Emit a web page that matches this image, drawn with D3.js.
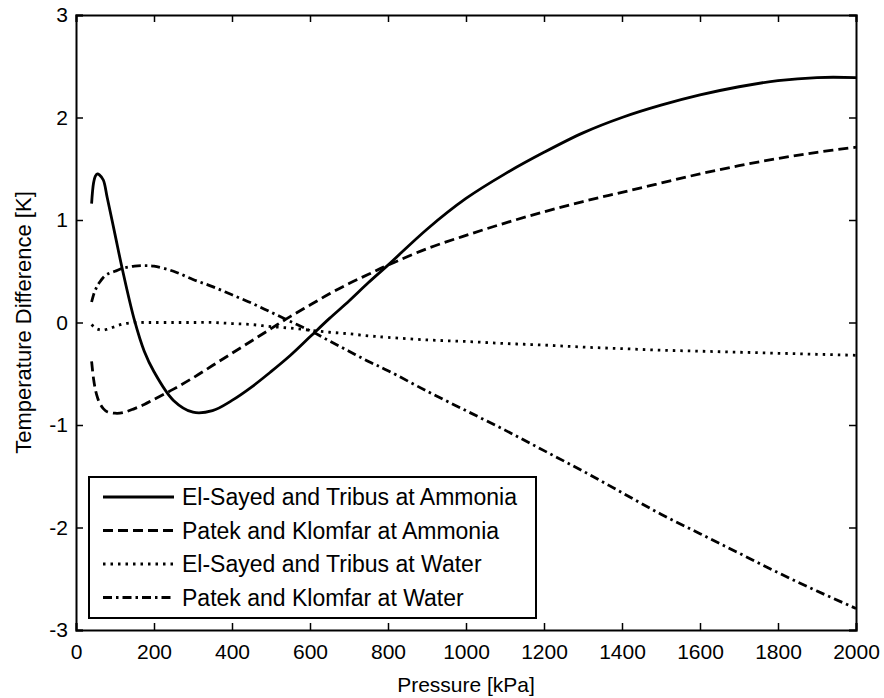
<!DOCTYPE html>
<html>
<head>
<meta charset="utf-8">
<script src="https://cdn.jsdelivr.net/npm/d3@7"></script>
<style>
  body { margin: 0; background: #fff; }
  text { font-family: "Liberation Sans", Arial, sans-serif; fill: #000; }
</style>
</head>
<body>
<div id="chart"></div>
<script>
// pressure grid [kPa]
const pressure = [40, 45, 50, 55, 60, 70, 80, 100, 120, 150, 175, 200, 250, 300, 350, 400, 450, 500,
    550, 600, 650, 700, 750, 800, 900, 1000, 1100, 1200, 1300, 1400, 1500, 1600, 1700, 1800, 1900, 2000];

// temperature differences [K]
const elSayedAmmonia = [1.16, 1.36, 1.43, 1.45, 1.44, 1.39, 1.22, 0.86, 0.50, 0.02, -0.28, -0.48, -0.76, -0.875, -0.86, -0.76, -0.63, -0.48,
    -0.32, -0.14, 0.04, 0.21, 0.39, 0.56, 0.91, 1.21, 1.45, 1.66, 1.85, 2.00, 2.12, 2.22, 2.30, 2.36, 2.39, 2.39];
const patekAmmonia = [-0.38, -0.55, -0.66, -0.73, -0.78, -0.84, -0.87, -0.885, -0.88, -0.84, -0.80, -0.75, -0.65, -0.54, -0.42, -0.30, -0.18, -0.06,
    0.06, 0.17, 0.28, 0.38, 0.47, 0.56, 0.72, 0.85, 0.97, 1.08, 1.18, 1.27, 1.36, 1.45, 1.53, 1.60, 1.66, 1.71];
const elSayedWater = [-0.02, -0.04, -0.055, -0.065, -0.07, -0.075, -0.065, -0.04, -0.015, 0.0, 0.0, 0.0, 0.0, 0.0, 0.0, -0.01, -0.02, -0.04,
    -0.055, -0.075, -0.095, -0.11, -0.13, -0.145, -0.17, -0.185, -0.205, -0.22, -0.24, -0.255, -0.27, -0.28, -0.29, -0.30, -0.31, -0.32];
const patekWater = [0.20, 0.27, 0.32, 0.36, 0.39, 0.44, 0.47, 0.50, 0.53, 0.55, 0.555, 0.55, 0.50, 0.42, 0.35, 0.27, 0.19, 0.10,
    0.01, -0.08, -0.18, -0.28, -0.38, -0.47, -0.67, -0.86, -1.05, -1.25, -1.45, -1.66, -1.87, -2.06, -2.25, -2.44, -2.62, -2.79];

const seriesNames = ["El-Sayed and Tribus at Ammonia", "Patek and Klomfar at Ammonia",
    "El-Sayed and Tribus at Water", "Patek and Klomfar at Water"];
const seriesValues = [elSayedAmmonia, patekAmmonia, elSayedWater, patekWater];
const dashes = [null, "10,5", "2.5,5", "9,4,2.5,4"];

const xTicks = [0, 200, 400, 600, 800, 1000, 1200, 1400, 1600, 1800, 2000];
const yTicks = [-3, -2, -1, 0, 1, 2, 3];

const W = 884, H = 698;
const margin = { top: 15, right: 28, bottom: 68, left: 76 };
const width = W - margin.left - margin.right;
const height = H - margin.top - margin.bottom;

const svg = d3.select("#chart").append("svg")
    .attr("width", W)
    .attr("height", H);

const g = svg.append("g")
    .attr("transform", `translate(${margin.left},${margin.top})`);

const x = d3.scaleLinear().domain([0, 2000]).range([0, width]);
const y = d3.scaleLinear().domain([-3, 3]).range([height, 0]);

// curves
const line = d3.line()
    .x((d, i) => x(pressure[i]))
    .y(d => y(d))
    .curve(d3.curveCatmullRom.alpha(0.5));

seriesValues.forEach((vals, k) => {
    g.append("path")
        .datum(vals)
        .attr("d", line)
        .attr("fill", "none")
        .attr("stroke", "#000")
        .attr("stroke-width", 2.8)
        .attr("stroke-dasharray", dashes[k]);
});

// axes: ticks inward on all four sides (matlab box)
const tickLen = 7;
const fmt = d => String(d);   // plain hyphen for negatives, like matlab

const axBottom = g.append("g").attr("transform", `translate(0,${height})`)
    .call(d3.axisBottom(x).tickValues(xTicks).tickSize(-tickLen).tickPadding(14).tickFormat(fmt));
const axTop = g.append("g")
    .call(d3.axisTop(x).tickValues(xTicks).tickSize(-tickLen).tickFormat(""));
const axLeft = g.append("g")
    .call(d3.axisLeft(y).tickValues(yTicks).tickSize(-tickLen).tickPadding(8).tickFormat(fmt));
const axRight = g.append("g").attr("transform", `translate(${width},0)`)
    .call(d3.axisRight(y).tickValues(yTicks).tickSize(-tickLen).tickFormat(""));

[axBottom, axTop, axLeft, axRight].forEach(a => {
    a.select(".domain").attr("stroke", "#000").attr("stroke-width", 2);
    a.selectAll(".tick line").attr("stroke", "#000").attr("stroke-width", 1.5);
    a.selectAll("text").style("font-size", "21px").attr("fill", "#000");
});
axBottom.selectAll("text").attr("dy", "0.71em");

// axis labels
g.append("text")
    .attr("x", width / 2)
    .attr("y", height + 62)
    .attr("text-anchor", "middle")
    .style("font-size", "21px")
    .text("Pressure [kPa]");

g.append("text")
    .attr("transform", "rotate(-90)")
    .attr("x", -height / 2)
    .attr("y", -45)
    .attr("text-anchor", "middle")
    .style("font-size", "22px")
    .text("Temperature Difference [K]");

// legend
const legend = g.append("g").attr("transform", "translate(13,462)");
legend.append("rect")
    .attr("width", 447)
    .attr("height", 141)
    .attr("fill", "#fff")
    .attr("stroke", "#000")
    .attr("stroke-width", 2);

seriesNames.forEach((name, k) => {
    const row = legend.append("g").attr("transform", `translate(0,${20 + k * 33.5})`);
    row.append("line")
        .attr("x1", 14).attr("x2", 85)
        .attr("stroke", "#000")
        .attr("stroke-width", 2.8)
        .attr("stroke-dasharray", dashes[k]);
    row.append("text")
        .attr("x", 93)
        .attr("dy", "0.36em")
        .style("font-size", "23px")
        .text(name);
});
</script>
</body>
</html>
